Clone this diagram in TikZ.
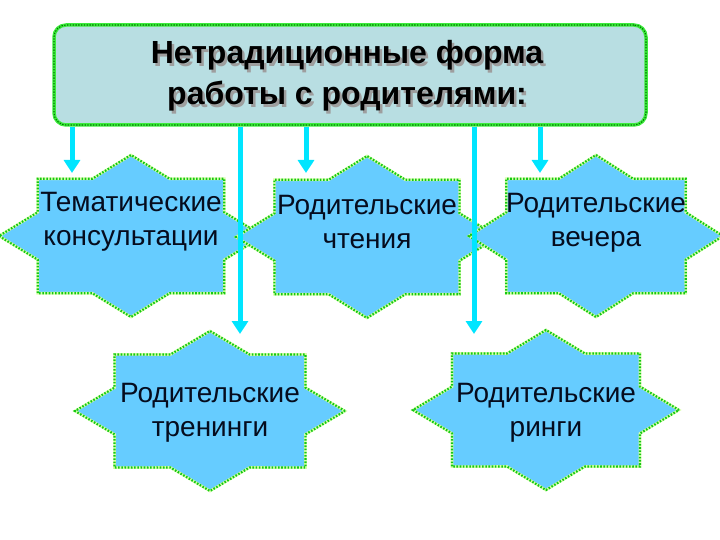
\documentclass[tikz,border=0pt]{standalone}
\usepackage{fontspec}
\setmainfont{Liberation Sans}
\usepackage{tikz}
\usetikzlibrary{arrows.meta,calc,positioning}

\definecolor{boxfill}{RGB}{184,222,226}
\definecolor{starfill}{RGB}{102,204,255}
\definecolor{feedcyan}{RGB}{0,229,255}
\definecolor{rimgreen}{RGB}{20,200,20}
\definecolor{rimlight}{RGB}{215,255,170}
\definecolor{rimbright}{RGB}{60,235,60}
\definecolor{rimdark}{RGB}{0,120,0}
\definecolor{textnavy}{RGB}{5,12,30}

% eight pointed star round a centre: centre, half width, half height
\newcommand{\starform}[3]{%
  \pgfmathsetmacro{\inx}{0.765*#2}%
  \pgfmathsetmacro{\iny}{0.765*#3}%
  \draw[starline] ($(#1)+(0:#2pt and #3pt)$)
    \foreach \k in {0,...,7} {
      -- ($(#1)+({\k*45+22.5}:\inx pt and \iny pt)$)
      -- ($(#1)+({\k*45+45}:#2pt and #3pt)$)
    } -- cycle;
}
% grey drop shadow under a line of text
\newcommand{\shadowline}[1]{%
  \rlap{\hspace{2.5pt}\raisebox{-2.5pt}{\color{black!38}#1}}#1}

\begin{document}
\begin{tikzpicture}[x=1pt,y=-1pt,
    starline/.style={fill=starfill,draw=rimlight,line width=2.6pt,
      postaction={draw=rimgreen,line width=2.2pt,dash pattern=on 1.6pt off 1.6pt}},
    titlebox/.style={rounded corners=12pt,fill=boxfill,draw=rimbright,line width=3.5pt,
      postaction={draw=rimdark,line width=1.1pt,dash pattern=on 1.4pt off 1.4pt},
      minimum width=592pt,minimum height=100pt},
    formtext/.style={text=textnavy,align=center,font=\fontsize{28}{34}\selectfont},
    titletext/.style={align=center,font=\fontsize{32}{41}\selectfont\bfseries},
    feed/.style={draw=feedcyan,line width=5pt,-{Triangle[width=16pt,length=13pt]}}]
    \useasboundingbox (0,0) rectangle (720,540);

    % HEADER
    \node[titlebox] (TITLE) at (350,75) {};
    \node[titletext] (TITLE_TEXT) at (347,77)
    {\shadowline{Нетрадиционные форма}\\ \shadowline{работы с родителями:}};

    % FIRST LAYER
    \coordinate (FORM_1) at (131,236);
    \coordinate (FORM_2) at (367,237);
    \coordinate (FORM_3) at (596,236);
    \starform{FORM_1}{132}{81}
    \starform{FORM_2}{131}{81}
    \starform{FORM_3}{127}{81}
    \node[formtext,yshift=14pt] (FORM_1_TEXT) at (FORM_1)
    {Тематические\\ консультации};
    \node[formtext,yshift=15pt] (FORM_2_TEXT) at (FORM_2)
    {Родительские\\ чтения};
    \node[formtext,yshift=13pt] (FORM_3_TEXT) at (FORM_3)
    {Родительские\\ вечера};

    % SECOND LAYER
    \coordinate (FORM_4) at (210,411);
    \coordinate (FORM_5) at (546,410);
    \starform{FORM_4}{135}{80}
    \starform{FORM_5}{133}{80}
    \node[formtext,yshift=-2pt] (FORM_4_TEXT) at (FORM_4)
    {Родительские\\ тренинги};
    \node[formtext,yshift=-3pt] (FORM_5_TEXT) at (FORM_5)
    {Родительские\\ ринги};

    % ARROWS
    \coordinate (TIP_1) at (72,173);
    \coordinate (TIP_2) at (240,334);
    \coordinate (TIP_3) at (306,173);
    \coordinate (TIP_4) at (474,334);
    \coordinate (TIP_5) at (540,173);
    \foreach \n in {1,...,5}
      \draw[feed] (TITLE.south -| TIP_\n) -- (TIP_\n);
\end{tikzpicture}
\end{document}
